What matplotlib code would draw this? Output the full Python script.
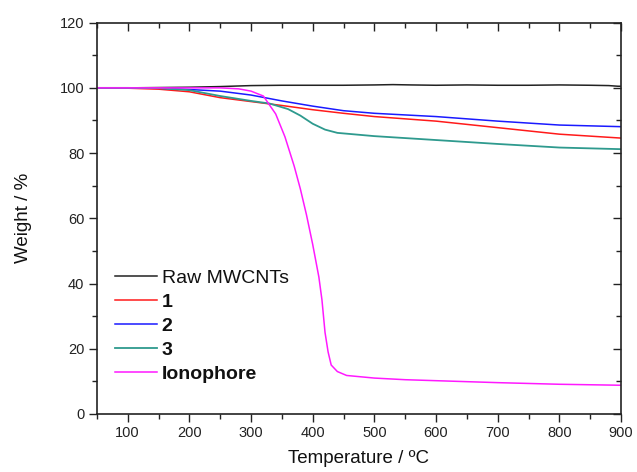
import matplotlib
matplotlib.use("Agg")
import matplotlib.pyplot as plt
from matplotlib.ticker import MultipleLocator

plt.rcParams['font.family'] = ['Liberation Sans', 'DejaVu Sans']

# TGA curves: temperature (ºC) and residual weight (%)
raw_T = [50, 100, 150, 200, 250, 300, 350, 400, 450, 500, 530, 560, 600, 650,
         700, 750, 800, 850, 880, 895, 900]
raw_W = [100.0, 100.0, 100.1, 100.2, 100.4, 100.7, 100.8, 100.8, 100.8, 100.9,
         101.0, 100.9, 100.8, 100.9, 100.8, 100.8, 100.9, 100.8, 100.7, 100.5, 100.5]

s1_T = [50, 100, 150, 200, 250, 300, 350, 400, 450, 500, 600, 700, 800, 900]
s1_W = [100.0, 99.9, 99.6, 98.8, 97.0, 95.8, 94.6, 93.3, 92.2, 91.2, 89.8,
        87.8, 85.8, 84.6]

s2_T = [50, 100, 150, 200, 250, 300, 350, 400, 450, 500, 600, 700, 800, 900]
s2_W = [100.0, 100.0, 99.9, 99.5, 99.0, 97.8, 96.0, 94.4, 93.0, 92.2, 91.2,
        89.8, 88.6, 88.1]

s3_T = [50, 100, 150, 200, 250, 300, 330, 360, 380, 400, 420, 440, 500, 600,
        700, 800, 900]
s3_W = [100.0, 100.0, 99.9, 99.3, 97.5, 96.0, 95.2, 93.5, 91.5, 89.0, 87.2,
        86.2, 85.2, 84.0, 82.8, 81.7, 81.2]

ion_T = [50, 150, 250, 280, 300, 320, 340, 355, 370, 380, 390, 400, 410, 415,
         420, 425, 430, 440, 455, 500, 550, 600, 700, 800, 900]
ion_W = [100.0, 100.0, 100.0, 99.7, 99.0, 97.5, 92.0, 85.0, 76.0, 69.0, 61.0,
         52.0, 42.0, 35.0, 25.0, 19.0, 15.0, 13.0, 11.8, 11.0, 10.5, 10.2,
         9.6, 9.1, 8.8]

series = [
    ("Raw MWCNTs", raw_T, raw_W, "#222222", 1.1, "normal"),
    ("1", s1_T, s1_W, "#ff1a1a", 1.1, "bold"),
    ("2", s2_T, s2_W, "#1a1aff", 1.1, "bold"),
    ("3", s3_T, s3_W, "#2e9a8e", 1.3, "bold"),
    ("Ionophore", ion_T, ion_W, "#ff19ff", 1.1, "bold"),
]

XLIM = (50, 900)
YLIM = (0, 120)
INK = '#222222'

fig = plt.figure(figsize=(6.37, 4.72), dpi=100)
ax = fig.add_axes([0.152, 0.123, 0.823, 0.829])

for label, T, W, color, lw, _ in series:
    ax.plot(T, W, color=color, lw=lw, label=label)

ax.set_xlim(*XLIM)
ax.set_ylim(*YLIM)


def set_locators(a):
    a.xaxis.set_major_locator(MultipleLocator(100))
    a.xaxis.set_minor_locator(MultipleLocator(50))
    a.yaxis.set_major_locator(MultipleLocator(20))
    a.yaxis.set_minor_locator(MultipleLocator(10))


set_locators(ax)
ax.tick_params(which='both', direction='out', top=False, right=False,
               colors=INK, labelsize=10.5, width=1.0)
ax.tick_params(which='major', length=6, pad=3)
ax.tick_params(which='minor', length=3.5)

# inward ticks mirrored on the top and right edges
ax_top = ax.twiny()
ax_top.set_xlim(*XLIM)
ax_right = ax.twinx()
ax_right.set_ylim(*YLIM)
for a in (ax_top, ax_right):
    set_locators(a)
    a.tick_params(which='both', direction='in', colors=INK, width=1.0,
                  labeltop=False, labelright=False, labelbottom=False,
                  labelleft=False)
    a.tick_params(which='major', length=6)
    a.tick_params(which='minor', length=3.5)
    for sp in a.spines.values():
        sp.set_visible(False)
ax_top.tick_params(axis='y', which='both', left=False, right=False)
ax_right.tick_params(axis='x', which='both', top=False, bottom=False)
ax_top.tick_params(axis='x', which='both', top=True, bottom=False)
ax_right.tick_params(axis='y', which='both', right=True, left=False)

for sp in ax.spines.values():
    sp.set_linewidth(1.2)
    sp.set_color(INK)

ax.set_xlabel("Temperature / ºC", fontsize=13.5, color='#111111', labelpad=7)
ax.set_ylabel("Weight / %", fontsize=13.5, color='#111111', labelpad=20)

leg = ax.legend(loc='upper left', bbox_to_anchor=(0.035, 0.37), frameon=False,
                fontsize=14, handlelength=2.15, handletextpad=0.25,
                labelspacing=0.33, borderpad=0, borderaxespad=0)
for txt, s in zip(leg.get_texts(), series):
    txt.set_fontweight(s[5])
    txt.set_color('#111111')

fig.savefig("out.png", dpi=100)
